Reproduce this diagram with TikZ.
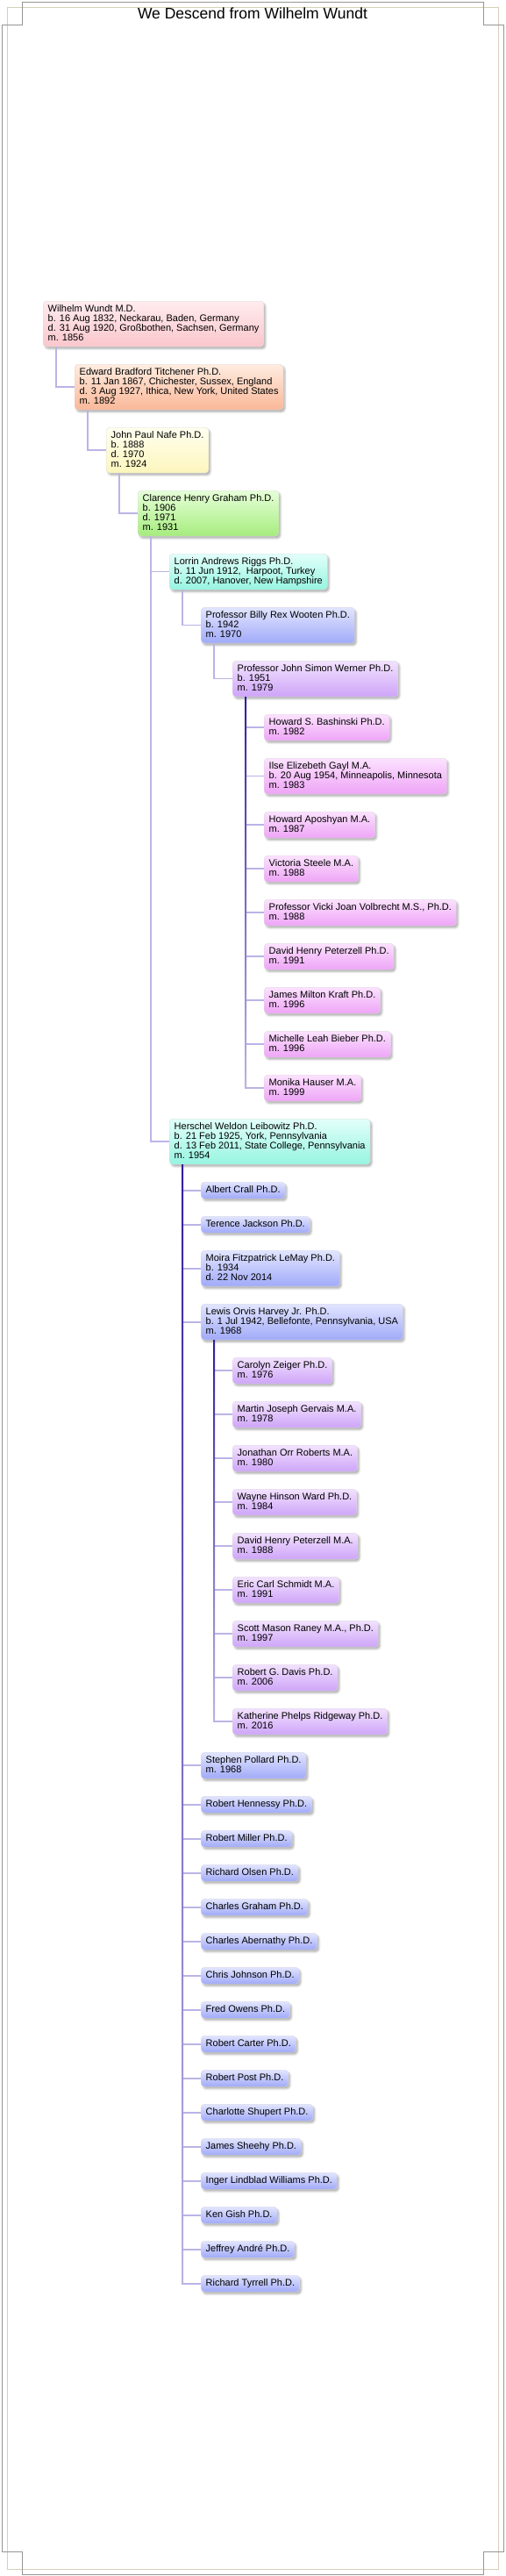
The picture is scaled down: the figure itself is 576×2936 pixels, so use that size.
\documentclass[tikz,border=0pt]{standalone}
\usepackage{fontspec}
\setmainfont{Liberation Sans}
\usepackage{tikz}
\usetikzlibrary{
    shadows.blur
}

\definecolor{framegray}{RGB}{150,150,150}
\definecolor{framebeige}{RGB}{212,208,184}
\definecolor{linkc}{RGB}{186,180,230}
\definecolor{trunkc}{RGB}{52,28,156}
\definecolor{pinkT}{RGB}{255,236,238}
\definecolor{pinkB}{RGB}{250,198,204}
\definecolor{peachT}{RGB}{255,236,224}
\definecolor{peachB}{RGB}{250,184,152}
\definecolor{yellowT}{RGB}{255,255,240}
\definecolor{yellowB}{RGB}{252,246,188}
\definecolor{greenT}{RGB}{230,255,216}
\definecolor{greenB}{RGB}{166,236,126}
\definecolor{aquaT}{RGB}{226,255,250}
\definecolor{aquaB}{RGB}{150,244,224}
\definecolor{blueT}{RGB}{226,229,255}
\definecolor{blueB}{RGB}{160,170,248}
\definecolor{violetT}{RGB}{242,226,255}
\definecolor{violetB}{RGB}{206,164,248}
\definecolor{magentaT}{RGB}{252,226,255}
\definecolor{magentaB}{RGB}{238,164,246}

\tikzset{
    person/.style={draw=black!14, line width=0.4pt, rounded corners=4pt,
        anchor=north west, align=left, inner xsep=5.5pt, inner ysep=4pt,
        font=\fontsize{11}{11}\selectfont,
        execute at begin node={\rule{0pt}{8pt}},
        execute at end node={\rule[-3pt]{0pt}{3pt}},
        blur shadow={shadow xshift=2pt, shadow yshift=-2.5pt,
            shadow blur radius=2pt, shadow opacity=30}},
    pinkbox/.style={person, top color=pinkT, bottom color=pinkB},
    peachbox/.style={person, top color=peachT, bottom color=peachB},
    yellowbox/.style={person, top color=yellowT, bottom color=yellowB},
    greenbox/.style={person, top color=greenT, bottom color=greenB},
    aquabox/.style={person, top color=aquaT, bottom color=aquaB},
    bluebox/.style={person, top color=blueT, bottom color=blueB},
    violetbox/.style={person, top color=violetT, bottom color=violetB},
    magentabox/.style={person, top color=magentaT, bottom color=magentaB},
    link/.style={draw=linkc, line width=1.6pt},
    trunk/.style={top color=trunkc, middle color=trunkc!75!linkc, bottom color=linkc}
}

\begin{document}
\begin{tikzpicture}[x=1pt,y=-1pt]
\useasboundingbox (0,0) rectangle (576,2936);

\draw[framebeige, line width=0.8pt] (8,8) rectangle (568,2928);
\draw[framegray, line width=0.8pt] (25,2) -- (551,2) -- (551,28) -- (574,28) -- (574,2908)
    -- (551,2908) -- (551,2934) -- (25,2934) -- (25,2908) -- (2,2908) -- (2,28) -- (25,28) -- cycle;

\node (title) at (288,15) {\fontsize{17.5}{20}\selectfont We Descend from Wilhelm Wundt};

\node[pinkbox] (wundt) at (49,343) {Wilhelm Wundt M.D.\\b. 16 Aug 1832, Neckarau, Baden, Germany\\d. 31 Aug 1920, Großbothen, Sachsen, Germany\\m. 1856};
\node[peachbox] (titchener) at (85,415) {Edward Bradford Titchener Ph.D.\\b. 11 Jan 1867, Chichester, Sussex, England\\d. 3 Aug 1927, Ithica, New York, United States\\m. 1892};
\node[yellowbox] (nafe) at (121,487) {John Paul Nafe Ph.D.\\b. 1888\\d. 1970\\m. 1924};
\node[greenbox] (graham) at (157,559) {Clarence Henry Graham Ph.D.\\b. 1906\\d. 1971\\m. 1931};
\node[aquabox] (riggs) at (193,631) {Lorrin Andrews Riggs Ph.D.\\b. 11 Jun 1912,\ \ Harpoot, Turkey\\d. 2007, Hanover, New Hampshire};
\node[bluebox] (wooten) at (229,692) {Professor Billy Rex Wooten Ph.D.\\b. 1942\\m. 1970};
\node[violetbox] (werner) at (265,753) {Professor John Simon Werner Ph.D.\\b. 1951\\m. 1979};

\node[magentabox] (bashinski) at (301,814) {Howard S. Bashinski Ph.D.\\m. 1982};
\node[magentabox] (gayl) at (301,864) {Ilse Elizebeth Gayl M.A.\\b. 20 Aug 1954, Minneapolis, Minnesota\\m. 1983};
\node[magentabox] (aposhyan) at (301,925) {Howard Aposhyan M.A.\\m. 1987};
\node[magentabox] (steele) at (301,975) {Victoria Steele M.A.\\m. 1988};
\node[magentabox] (volbrecht) at (301,1025) {Professor Vicki Joan Volbrecht M.S., Ph.D.\\m. 1988};
\node[magentabox] (peterzellphd) at (301,1075) {David Henry Peterzell Ph.D.\\m. 1991};
\node[magentabox] (kraft) at (301,1125) {James Milton Kraft Ph.D.\\m. 1996};
\node[magentabox] (bieber) at (301,1175) {Michelle Leah Bieber Ph.D.\\m. 1996};
\node[magentabox] (hauser) at (301,1225) {Monika Hauser M.A.\\m. 1999};

\node[aquabox] (leibowitz) at (193,1275) {Herschel Weldon Leibowitz Ph.D.\\b. 21 Feb 1925, York, Pennsylvania\\d. 13 Feb 2011, State College, Pennsylvania\\m. 1954};

\node[bluebox] (crall) at (229,1347) {Albert Crall Ph.D.};
\node[bluebox] (jackson) at (229,1386) {Terence Jackson Ph.D.};
\node[bluebox] (lemay) at (229,1425) {Moira Fitzpatrick LeMay Ph.D.\\b. 1934\\d. 22 Nov 2014};
\node[bluebox] (harvey) at (229,1486) {Lewis Orvis Harvey Jr. Ph.D.\\b. 1 Jul 1942, Bellefonte, Pennsylvania, USA\\m. 1968};

\node[violetbox] (zeiger) at (265,1547) {Carolyn Zeiger Ph.D.\\m. 1976};
\node[violetbox] (gervais) at (265,1597) {Martin Joseph Gervais M.A.\\m. 1978};
\node[violetbox] (roberts) at (265,1647) {Jonathan Orr Roberts M.A.\\m. 1980};
\node[violetbox] (ward) at (265,1697) {Wayne Hinson Ward Ph.D.\\m. 1984};
\node[violetbox] (peterzellma) at (265,1747) {David Henry Peterzell M.A.\\m. 1988};
\node[violetbox] (schmidt) at (265,1797) {Eric Carl Schmidt M.A.\\m. 1991};
\node[violetbox] (raney) at (265,1847) {Scott Mason Raney M.A., Ph.D.\\m. 1997};
\node[violetbox] (davis) at (265,1897) {Robert G. Davis Ph.D.\\m. 2006};
\node[violetbox] (ridgeway) at (265,1947) {Katherine Phelps Ridgeway Ph.D.\\m. 2016};

\node[bluebox] (pollard) at (229,1997) {Stephen Pollard Ph.D.\\m. 1968};
\node[bluebox] (hennessy) at (229,2047) {Robert Hennessy Ph.D.};
\node[bluebox] (miller) at (229,2086) {Robert Miller Ph.D.};
\node[bluebox] (olsen) at (229,2125) {Richard Olsen Ph.D.};
\node[bluebox] (cgraham) at (229,2164) {Charles Graham Ph.D.};
\node[bluebox] (abernathy) at (229,2203) {Charles Abernathy Ph.D.};
\node[bluebox] (johnson) at (229,2242) {Chris Johnson Ph.D.};
\node[bluebox] (owens) at (229,2281) {Fred Owens Ph.D.};
\node[bluebox] (carter) at (229,2320) {Robert Carter Ph.D.};
\node[bluebox] (post) at (229,2359) {Robert Post Ph.D.};
\node[bluebox] (shupert) at (229,2398) {Charlotte Shupert Ph.D.};
\node[bluebox] (sheehy) at (229,2437) {James Sheehy Ph.D.};
\node[bluebox] (williams) at (229,2476) {Inger Lindblad Williams Ph.D.};
\node[bluebox] (gish) at (229,2515) {Ken Gish Ph.D.};
\node[bluebox] (andre) at (229,2554) {Jeffrey André Ph.D.};
\node[bluebox] (tyrrell) at (229,2593) {Richard Tyrrell Ph.D.};

\draw[link] ([xshift=15pt]wundt.south west) |- (titchener.west);
\draw[link] ([xshift=15pt]titchener.south west) |- (nafe.west);
\draw[link] ([xshift=15pt]nafe.south west) |- (graham.west);
\draw[link] ([xshift=15pt]graham.south west) |- (riggs.west);
\draw[link] ([xshift=15pt]graham.south west) |- (leibowitz.west);
\draw[link] ([xshift=15pt]riggs.south west) |- (wooten.west);
\draw[link] ([xshift=15pt]wooten.south west) |- (werner.west);

\coordinate (wtop) at ([xshift=15pt]werner.south west);
\coordinate (wend) at (wtop |- hauser.west);
\draw[link] (wtop) |- (bashinski.west);
\draw[link] (wtop) |- (gayl.west);
\draw[link] (wtop) |- (aposhyan.west);
\draw[link] (wtop) |- (steele.west);
\draw[link] (wtop) |- (volbrecht.west);
\draw[link] (wtop) |- (peterzellphd.west);
\draw[link] (wtop) |- (kraft.west);
\draw[link] (wtop) |- (bieber.west);
\draw[link] (wtop) |- (hauser.west);
\shade[trunk] ([xshift=-1pt]wtop) rectangle ([xshift=1pt]wend);

\coordinate (htop) at ([xshift=15pt]harvey.south west);
\coordinate (hend) at (htop |- ridgeway.west);
\draw[link] (htop) |- (zeiger.west);
\draw[link] (htop) |- (gervais.west);
\draw[link] (htop) |- (roberts.west);
\draw[link] (htop) |- (ward.west);
\draw[link] (htop) |- (peterzellma.west);
\draw[link] (htop) |- (schmidt.west);
\draw[link] (htop) |- (raney.west);
\draw[link] (htop) |- (davis.west);
\draw[link] (htop) |- (ridgeway.west);
\shade[trunk] ([xshift=-1pt]htop) rectangle ([xshift=1pt]hend);

\coordinate (ltop) at ([xshift=15pt]leibowitz.south west);
\coordinate (lend) at (ltop |- tyrrell.west);
\draw[link] (ltop) |- (crall.west);
\draw[link] (ltop) |- (jackson.west);
\draw[link] (ltop) |- (lemay.west);
\draw[link] (ltop) |- (harvey.west);
\draw[link] (ltop) |- (pollard.west);
\draw[link] (ltop) |- (hennessy.west);
\draw[link] (ltop) |- (miller.west);
\draw[link] (ltop) |- (olsen.west);
\draw[link] (ltop) |- (cgraham.west);
\draw[link] (ltop) |- (abernathy.west);
\draw[link] (ltop) |- (johnson.west);
\draw[link] (ltop) |- (owens.west);
\draw[link] (ltop) |- (carter.west);
\draw[link] (ltop) |- (post.west);
\draw[link] (ltop) |- (shupert.west);
\draw[link] (ltop) |- (sheehy.west);
\draw[link] (ltop) |- (williams.west);
\draw[link] (ltop) |- (gish.west);
\draw[link] (ltop) |- (andre.west);
\draw[link] (ltop) |- (tyrrell.west);
\shade[trunk] ([xshift=-1pt]ltop) rectangle ([xshift=1pt]lend);
\end{tikzpicture}
\end{document}
